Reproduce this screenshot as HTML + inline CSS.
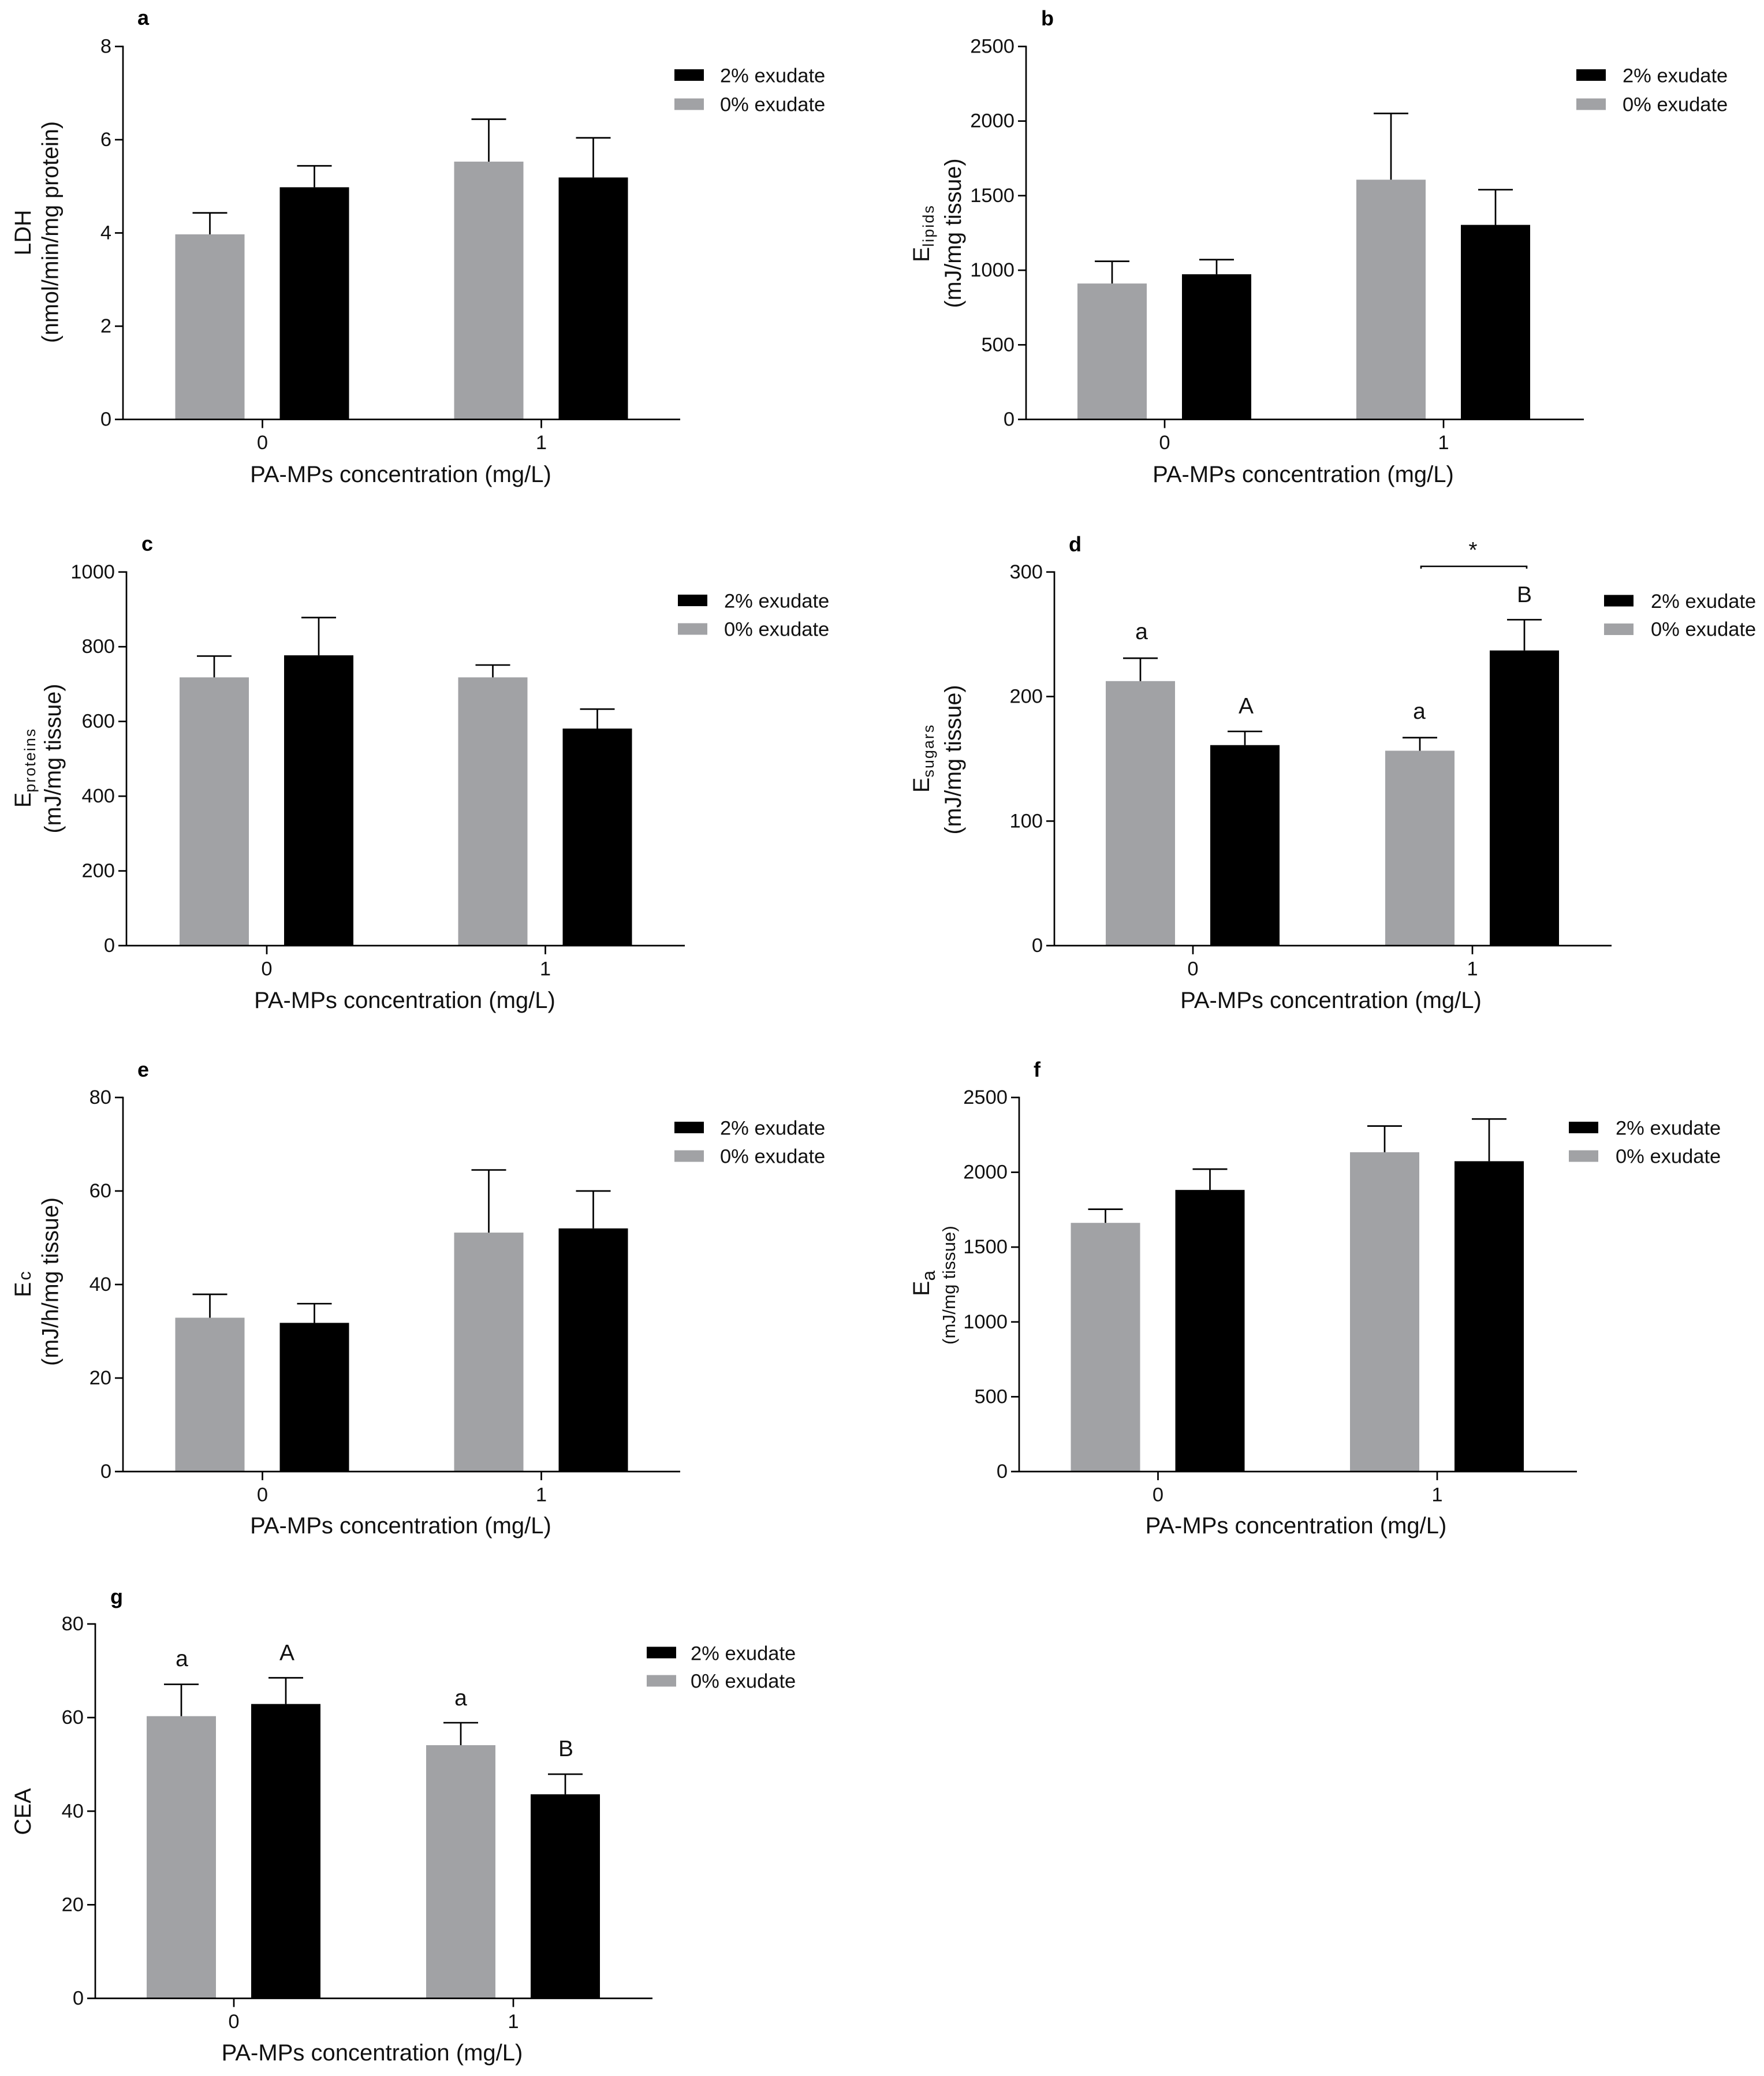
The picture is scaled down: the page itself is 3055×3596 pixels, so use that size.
<!DOCTYPE html>
<html lang="en">
<head>
<meta charset="utf-8">
<title>PA-MPs exposure bar charts</title>
<style>
  html, body { margin: 0; padding: 0; background: #ffffff; }
  svg { display: block; font-family: "Liberation Sans", Arial, sans-serif; fill: #111111; }
  .tick { font-size: 34.5px; }
  .legend { font-size: 34.5px; }
  .xtitle { font-size: 40px; text-anchor: middle; }
  .ytitle { font-size: 39.5px; }
  .letter { font-size: 36px; font-weight: bold; fill: #000; }
  .sig { font-size: 39px; text-anchor: middle; }
  .sub { font-size: 27px; letter-spacing: 2px; }
</style>
</head>
<body>
<svg id="figure" xmlns="http://www.w3.org/2000/svg" width="3055" height="3596" viewBox="0 0 3055 3596">
  <rect x="0" y="0" width="3055" height="3596" fill="#ffffff"/>

  <!-- Panel a -->
  <g id="panel-a">
    <text class="letter" x="238" y="43">a</text>
    <text class="ytitle" text-anchor="middle" transform="translate(53,403) rotate(-90)">LDH</text>
    <text class="ytitle" text-anchor="middle" transform="translate(100.5,402) rotate(-90)">(nmol/min/mg protein)</text>
    <text class="xtitle" x="694" y="835">PA-MPs concentration (mg/L)</text>
    <g>
      <rect x="1168" y="120" width="51" height="20" fill="#000000"/>
      <text class="legend" x="1247" y="142.5">2% exudate</text>
      <rect x="1168" y="170.5" width="51" height="20" fill="#a1a2a5"/>
      <text class="legend" x="1247" y="192.5">0% exudate</text>
    </g>
  </g>

  <!-- Panel b -->
  <g id="panel-b">
    <text class="letter" x="1803" y="44">b</text>
    <text class="ytitle" transform="translate(1609,454) rotate(-90)">E<tspan class="sub" dy="8">lipids</tspan></text>
    <text class="ytitle" text-anchor="middle" transform="translate(1664,404) rotate(-90)">(mJ/mg tissue)</text>
    <text class="xtitle" x="2257" y="835">PA-MPs concentration (mg/L)</text>
    <g>
      <rect x="2730" y="120" width="51" height="20" fill="#000000"/>
      <text class="legend" x="2810" y="142.5">2% exudate</text>
      <rect x="2730" y="170.5" width="51" height="20" fill="#a1a2a5"/>
      <text class="legend" x="2810" y="192.5">0% exudate</text>
    </g>
  </g>

  <!-- Panel c -->
  <g id="panel-c">
    <text class="letter" x="245" y="954">c</text>
    <text class="ytitle" transform="translate(53,1399) rotate(-90)">E<tspan class="sub" dy="8">proteins</tspan></text>
    <text class="ytitle" text-anchor="middle" transform="translate(105,1314) rotate(-90)">(mJ/mg tissue)</text>
    <text class="xtitle" x="701" y="1746">PA-MPs concentration (mg/L)</text>
    <g>
      <rect x="1174" y="1030" width="51" height="20" fill="#000000"/>
      <text class="legend" x="1254" y="1052.5">2% exudate</text>
      <rect x="1174" y="1079.5" width="51" height="20" fill="#a1a2a5"/>
      <text class="legend" x="1254" y="1101.5">0% exudate</text>
    </g>
  </g>

  <!-- Panel d -->
  <g id="panel-d">
    <text class="letter" x="1851" y="955">d</text>
    <text class="ytitle" transform="translate(1609,1373) rotate(-90)">E<tspan class="sub" dy="8">sugars</tspan></text>
    <text class="ytitle" text-anchor="middle" transform="translate(1664,1316) rotate(-90)">(mJ/mg tissue)</text>
    <text class="xtitle" x="2305" y="1746">PA-MPs concentration (mg/L)</text>
    <g>
      <rect x="2778" y="1030.5" width="51" height="20" fill="#000000"/>
      <text class="legend" x="2859" y="1053">2% exudate</text>
      <rect x="2778" y="1080" width="51" height="20" fill="#a1a2a5"/>
      <text class="legend" x="2859" y="1101.5">0% exudate</text>
    </g>
    <text class="sig" x="1977" y="1107">a</text>
    <text class="sig" x="2158" y="1236">A</text>
    <text class="sig" x="2458" y="1245">a</text>
    <text class="sig" x="2640" y="1043">B</text>
    <path d="M2461 985V981H2644V985" fill="none" stroke="#000" stroke-width="2.6"/>
    <text class="sig" x="2551" y="966">*</text>
  </g>

  <!-- Panel e -->
  <g id="panel-e">
    <text class="letter" x="238" y="1865">e</text>
    <text class="ytitle" transform="translate(53,2247) rotate(-90)">E<tspan font-size="31" dx="3">c</tspan></text>
    <text class="ytitle" text-anchor="middle" transform="translate(100.5,2220) rotate(-90)">(mJ/h/mg tissue)</text>
    <text class="xtitle" x="694" y="2656">PA-MPs concentration (mg/L)</text>
    <g>
      <rect x="1168" y="1943" width="51" height="20" fill="#000000"/>
      <text class="legend" x="1247" y="1965.5">2% exudate</text>
      <rect x="1168" y="1992.5" width="51" height="20" fill="#a1a2a5"/>
      <text class="legend" x="1247" y="2014.5">0% exudate</text>
    </g>
  </g>

  <!-- Panel f -->
  <g id="panel-f">
    <text class="letter" x="1790" y="1865">f</text>
    <text class="ytitle" transform="translate(1609,2245) rotate(-90)">E<tspan font-size="32" dy="10">a</tspan></text>
    <text font-size="31" letter-spacing="0.2" text-anchor="middle" transform="translate(1654,2226) rotate(-90)">(mJ/mg tissue)</text>
    <text class="xtitle" x="2244.5" y="2656">PA-MPs concentration (mg/L)</text>
    <g>
      <rect x="2717" y="1943" width="51" height="20" fill="#000000"/>
      <text class="legend" x="2798" y="1965.5">2% exudate</text>
      <rect x="2717" y="1992.5" width="51" height="20" fill="#a1a2a5"/>
      <text class="legend" x="2798" y="2014.5">0% exudate</text>
    </g>
  </g>

  <!-- Panel g -->
  <g id="panel-g">
    <text class="letter" x="191" y="2778">g</text>
    <text class="ytitle" text-anchor="middle" transform="translate(53,3138) rotate(-90)">CEA</text>
    <text class="xtitle" x="644.5" y="3569">PA-MPs concentration (mg/L)</text>
    <g>
      <rect x="1120" y="2852.5" width="51" height="20" fill="#000000"/>
      <text class="legend" x="1196" y="2875.5">2% exudate</text>
      <rect x="1120" y="2901.5" width="51" height="20" fill="#a1a2a5"/>
      <text class="legend" x="1196" y="2923.5">0% exudate</text>
    </g>
    <text class="sig" x="315" y="2886">a</text>
    <text class="sig" x="497" y="2876">A</text>
    <text class="sig" x="798" y="2954">a</text>
    <text class="sig" x="980" y="3042">B</text>
  </g>
</svg>

<script>
// Shared category labels (PA-MPs concentration, mg/L)
const categories = ['0', '1'];

// Panel a: LDH
const aTicks = [0, 2, 4, 6, 8];
const aGray = [3.97, 5.53];
const aGrayUpper = [4.43, 6.44];
const aBlack = [4.98, 5.19];
const aBlackUpper = [5.44, 6.04];

// Panel b: E lipids
const bTicks = [0, 500, 1000, 1500, 2000, 2500];
const bGray = [911, 1607];
const bGrayUpper = [1060, 2051];
const bBlack = [973, 1304];
const bBlackUpper = [1071, 1540];

// Panel c: E proteins
const cTicks = [0, 200, 400, 600, 800, 1000];
const cGray = [718, 718];
const cGrayUpper = [775, 751];
const cBlack = [777, 581];
const cBlackUpper = [878, 633];

// Panel d: E sugars
const dTicks = [0, 100, 200, 300];
const dGray = [212.4, 156.5];
const dGrayUpper = [230.8, 167];
const dBlack = [161, 237];
const dBlackUpper = [172, 261.7];

// Panel e: Ec
const eTicks = [0, 20, 40, 60, 80];
const eGray = [32.9, 51.1];
const eGrayUpper = [37.9, 64.5];
const eBlack = [31.8, 52];
const eBlackUpper = [35.9, 60];

// Panel f: Ea
const fTicks = [0, 500, 1000, 1500, 2000, 2500];
const fGray = [1662, 2134];
const fGrayUpper = [1753, 2309];
const fBlack = [1882, 2074];
const fBlackUpper = [2021, 2356];

// Panel g: CEA
const gTicks = [0, 20, 40, 60, 80];
const gGray = [60.3, 54.1];
const gGrayUpper = [67.1, 58.9];
const gBlack = [62.9, 43.6];
const gBlackUpper = [68.5, 47.9];

// Frame geometry of each panel; the marks themselves come from the arrays above.
function frame(left, right, top, base, cat0, cat1) {
  return { left, right, top, base, cat0, cat1 };
}

const SVG_NS = 'http://www.w3.org/2000/svg';
const GRAY = '#a1a2a5';
const BLACK = '#000000';
const BAR_WIDTH = 120;
const CAP_WIDTH = 60;
const STROKE = 2.7;

function drawLine(parent, x1, y1, x2, y2) {
  const line = document.createElementNS(SVG_NS, 'line');
  line.setAttribute('x1', x1);
  line.setAttribute('y1', y1);
  line.setAttribute('x2', x2);
  line.setAttribute('y2', y2);
  line.setAttribute('stroke', '#000');
  line.setAttribute('stroke-width', STROKE);
  parent.appendChild(line);
  return line;
}

function drawSeries(parent, f, yScale, xScale, values, uppers, offset, color) {
  values.forEach(function (value, i) {
    const center = xScale(i) + offset;
    const rect = document.createElementNS(SVG_NS, 'rect');
    
    
    rect.setAttribute('x', center - BAR_WIDTH / 2);
    rect.setAttribute('y', yScale(value));
    rect.setAttribute('width', BAR_WIDTH);
    rect.setAttribute('height', f.base - yScale(value));
    rect.setAttribute('fill', color);
    parent.appendChild(rect);

    const stem = drawLine(parent, center, yScale(value), center, yScale(uppers[i]));
    
    

    const cap = drawLine(parent, center - CAP_WIDTH / 2, yScale(uppers[i]), center + CAP_WIDTH / 2, yScale(uppers[i]));
    
    
  });
}

function drawPanel(id, f, ticks, gray, grayUpper, black, blackUpper) {
  const parent = document.getElementById(id);
  const maxTick = ticks[ticks.length - 1];
  const yScale = function (v) { return f.base - (v / maxTick) * (f.base - f.top); };
  const xScale = function (i) { return f.cat0 + i * (f.cat1 - f.cat0); };

  drawSeries(parent, f, yScale, xScale, gray, grayUpper, -91, GRAY);
  drawSeries(parent, f, yScale, xScale, black, blackUpper, 90, BLACK);

  const yAxis = drawLine(parent, f.left, f.top - 1.3, f.left, f.base);
  
  

  const xAxis = drawLine(parent, f.left - 14, f.base, f.right, f.base);
  
  

  ticks.forEach(function (t) {
    const y = yScale(t);
    if (t !== 0) {
      const mark = drawLine(parent, f.left - 14, y, f.left, y);
      
      
    }
    const label = document.createElementNS(SVG_NS, 'text');
    
    
    label.setAttribute('class', 'tick');
    label.setAttribute('text-anchor', 'end');
    label.setAttribute('x', f.left - 20);
    label.setAttribute('y', y + 11);
    label.textContent = String(t);
    parent.appendChild(label);
  });

  categories.forEach(function (c, i) {
    const x = xScale(i);
    const mark = drawLine(parent, x, f.base, x, f.base + 15);
    
    

    const label = document.createElementNS(SVG_NS, 'text');
    
    
    label.setAttribute('class', 'tick');
    label.setAttribute('text-anchor', 'middle');
    label.setAttribute('x', x);
    label.setAttribute('y', f.base + 51.5);
    label.textContent = c;
    parent.appendChild(label);
  });
}

drawPanel('panel-a', frame(213, 1178, 80.5, 726.5, 454.5, 937.5), aTicks, aGray, aGrayUpper, aBlack, aBlackUpper);
drawPanel('panel-b', frame(1777, 2743, 80.5, 726.5, 2017, 2500), bTicks, bGray, bGrayUpper, bBlack, bBlackUpper);
drawPanel('panel-c', frame(219, 1186, 990.8, 1638, 462, 944.5), cTicks, cGray, cGrayUpper, cBlack, cBlackUpper);
drawPanel('panel-d', frame(1826, 2791, 990.8, 1638, 2066, 2550), dTicks, dGray, dGrayUpper, dBlack, dBlackUpper);
drawPanel('panel-e', frame(213, 1178, 1901, 2549, 454.5, 937.5), eTicks, eGray, eGrayUpper, eBlack, eBlackUpper);
drawPanel('panel-f', frame(1765, 2731, 1901, 2549, 2005.5, 2489), fTicks, fGray, fGrayUpper, fBlack, fBlackUpper);
drawPanel('panel-g', frame(165, 1130, 2813, 3461.5, 405, 889), gTicks, gGray, gGrayUpper, gBlack, gBlackUpper);
</script>
</body>
</html>
